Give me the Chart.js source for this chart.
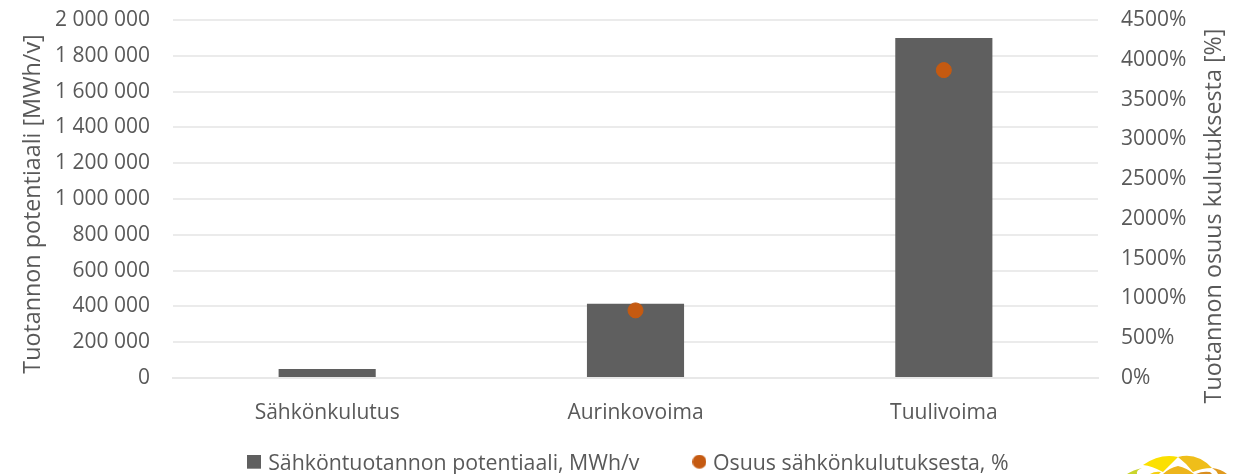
<!DOCTYPE html>
<html><head><meta charset="utf-8">
<style>html,body{margin:0;padding:0;background:#fff;overflow:hidden}#w{position:relative;width:1248px;height:474px}canvas{display:block}svg{position:absolute;left:0;top:0}</style>
<script src="https://cdn.jsdelivr.net/npm/chart.js@4"></script></head>
<body><div id="w"><canvas id="c" width="1248" height="474"></canvas>
<svg width="1248" height="474" viewBox="0 0 1248 474">
<path fill="#FBE000" d="M1143,465 Q1160,453 1178,457 Q1170,465 1163,472 Q1152,466 1143,465Z"/>
<path fill="#EFBE1A" d="M1178,457 Q1197,452 1212,468 Q1202,468 1193,472 Q1186,463 1178,457Z"/>
<path fill="#EDB51C" d="M1163,474 Q1169,468 1178,466 Q1187,468 1194,474Z"/>
<path fill="#F5CF10" d="M1150,474 Q1155,471 1161,472 L1159,474Z"/>
<path fill="#C9D52C" d="M1127,474 Q1133,470 1142,468 Q1136,470 1137,474Z"/>
<path fill="#E09A1F" d="M1212,468 Q1221,469 1227,474 L1218,474 Q1216,470 1212,468Z"/>
<path fill="#D98E1E" d="M1196,474 Q1202,471 1210,472 L1212,474Z"/>
</svg></div>
<script>
const categories = ["Sähkönkulutus", "Aurinkovoima", "Tuulivoima"];
const potentialMWh = [50000, 415000, 1900000];
const sharePercent = [null, 850, 3870];
const seriesNames = ["Sähköntuotannon potentiaali, MWh/v", "Osuus sähkönkulutuksesta, %"];
const leftTitle = "Tuotannon potentiaali [MWh/v]";
const rightTitle = "Tuotannon osuus kulutuksesta [%]";
const FONT = "'Open Sans'";
const TXT = "#595959";
const BAR = '#5F5F5F', DOT = '#C55A11';
const LEGEND_GAP = 57;
function marker(color, round){
  const m=document.createElement('canvas'); m.width=14; m.height=18;
  const g=m.getContext('2d'); g.fillStyle=color;
  if(round){g.beginPath();g.arc(7,7,7,0,Math.PI*2);g.fill();} else g.fillRect(0,0,14,14);
  return m;
}
const markers=[marker(BAR,false),marker(DOT,true)];
Chart.defaults.font.family = FONT;
const extras = {
  id:'extras',
  beforeLayout(ch){
    const lg=ch.legend;
    if(!lg._wrapped){ const f=lg.fit; lg.fit=function(){f.call(this); this.height=25;}; lg._wrapped=true; }
  },
  afterLayout(ch){ const lg=ch.legend; lg.top = 453 - LEGEND_GAP; lg.left += 6; lg.right += 6; },
  afterDraw(ch){
    const g=ch.ctx; g.save();
    g.fillStyle=TXT; g.font="23.3px "+FONT; g.textAlign='center'; g.textBaseline='middle';
    g.translate(33,204); g.rotate(-Math.PI/2); g.fillText(leftTitle,0,0); g.rotate(Math.PI/2); g.translate(-33,-204);
    g.translate(1214,216); g.rotate(-Math.PI/2); g.fillText(rightTitle,0,0);
    g.restore();
  }
};
const noPad = a=>{a.paddingTop=0;a.paddingBottom=0;};
new Chart(document.getElementById('c'), {
  plugins:[extras],
  data: { labels: categories, datasets: [
    { type:'bar', label:seriesNames[0], data:potentialMWh, yAxisID:'y', backgroundColor:BAR, barPercentage:0.315, categoryPercentage:1, order:2 },
    { type:'scatter', label:seriesNames[1], data:sharePercent, yAxisID:'y2', xAxisID:'x', showLine:false,
      backgroundColor:DOT, borderColor:DOT, pointRadius:7.5, pointHoverRadius:7.5, order:1 }
  ]},
  options: {
    responsive:false, animation:false, events:[],
    layout:{ padding:{left:0,right:0,top:20,bottom:0} },
    plugins:{ tooltip:{enabled:false},
      legend:{ position:'bottom', labels:{ color:TXT, font:{size:21.3}, usePointStyle:true, boxWidth:6, boxHeight:8, padding:LEGEND_GAP,
        generateLabels:c=>c.data.datasets.map((d,i)=>({text:d.label,fontColor:TXT,pointStyle:markers[i],datasetIndex:i,hidden:false,fillStyle:'#000',strokeStyle:'#000',lineWidth:0})) },
        } },
    scales:{
      x:{ type:'category', offset:true, grid:{display:false}, border:{color:'#E8E8E8',width:2}, afterFit:a=>{a.height=71;a.paddingLeft=0;a.paddingRight=0;},
        ticks:{color:TXT,font:{size:21},padding:14,maxRotation:0} },
      y:{ position:'left', min:0, max:2000000, border:{display:false}, grid:{color:'#EBEBEB',lineWidth:2,drawTicks:false}, afterFit:a=>{a.width=173;noPad(a);},
        ticks:{ stepSize:200000,color:TXT,font:{size:21},padding:23,callback:v=>String(v).replace(/\B(?=(\d{3})+$)/g,' ') } },
      y2:{ position:'right', min:0, max:4500, border:{display:false}, grid:{display:false,drawTicks:false}, afterFit:a=>{a.width=150;noPad(a);},
        ticks:{ stepSize:500,color:TXT,font:{size:21},padding:23,callback:v=>v+'%' } }
    }
  }
});
</script></body></html>
